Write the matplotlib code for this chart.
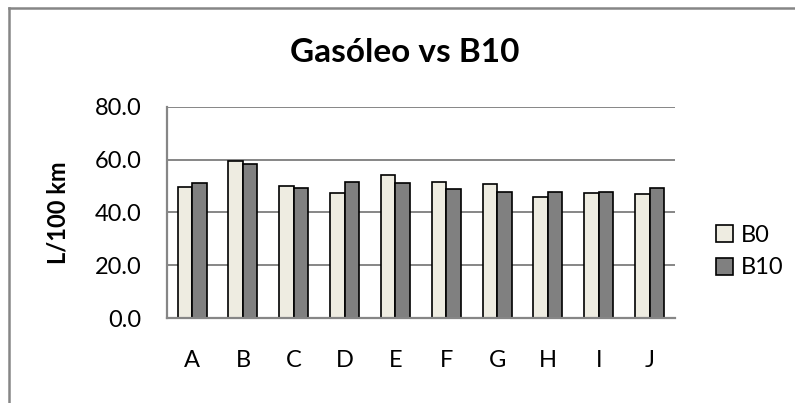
import numpy as np
import matplotlib.pyplot as plt
from matplotlib.patches import Patch
from matplotlib.lines import Line2D

plt.rcParams['font.family'] = ['Lato', 'DejaVu Sans']

# datos
categorias = ["A", "B", "C", "D", "E", "F", "G", "H", "I", "J"]
b0 = [49.5, 59.6, 50.0, 47.5, 54.3, 51.5, 50.8, 45.7, 47.3, 46.9]
b10 = [51.2, 58.2, 49.3, 51.6, 51.3, 49.0, 47.9, 47.8, 47.6, 49.3]
yticks = [0, 20, 40, 60, 80]

COLOR_B0 = "#EEECE1"
COLOR_B10 = "#808080"
GRIS = "#868686"

fig = plt.figure(figsize=(7.95, 4.03), dpi=100)
ax = fig.add_axes([0.2097, 0.2102, 0.6394, 0.5251])

x = np.arange(len(categorias))
ancho = 0.285
ax.bar(x - ancho / 2, b0, ancho, color=COLOR_B0, edgecolor="black", linewidth=1.2, zorder=3)
ax.bar(x + ancho / 2, b10, ancho, color=COLOR_B10, edgecolor="black", linewidth=1.2, zorder=3)

ax.set_xlim(-0.5, len(categorias) - 0.5)
ax.set_ylim(0, 80)
ax.set_yticks(yticks)
ax.set_yticklabels([f"{v:.1f}" for v in yticks])
ax.set_xticks(x)
ax.set_xticklabels(categorias)
ax.tick_params(axis="y", length=0, pad=18, labelsize=17)
ax.tick_params(axis="x", length=0, pad=23, labelsize=17)
ax.grid(axis="y", color=GRIS, linewidth=1.4, zorder=0)

for s in ["top", "right"]:
  ax.spines[s].set_visible(False)
for s in ["left", "bottom"]:
  ax.spines[s].set_color(GRIS)
  ax.spines[s].set_linewidth(1.6)
  ax.spines[s].set_zorder(4)

ax.set_ylabel("L/100 km", fontsize=17, fontweight="bold", labelpad=18)
fig.text(0.509, 0.846, "Gasóleo vs B10", ha="center", va="baseline", fontsize=24, fontweight="bold")

# leyenda
handles = [Patch(facecolor=COLOR_B0, edgecolor="black", linewidth=1.2, label="B0"),
           Patch(facecolor=COLOR_B10, edgecolor="black", linewidth=1.2, label="B10")]
fig.legend(handles=handles, loc="center left", bbox_to_anchor=(0.874, 0.376), frameon=False,
           fontsize=17, handlelength=0.72, handleheight=0.72, handletextpad=0.35, labelspacing=0.5)

# marco exterior (solo arriba e izquierda visibles)
fig.add_artist(Line2D([0.011, 1.0], [0.979, 0.979], transform=fig.transFigure, color=GRIS, linewidth=1.8))
fig.add_artist(Line2D([0.011, 0.011], [0.0, 0.979], transform=fig.transFigure, color=GRIS, linewidth=1.8))

fig.savefig("out.png", dpi=100)
